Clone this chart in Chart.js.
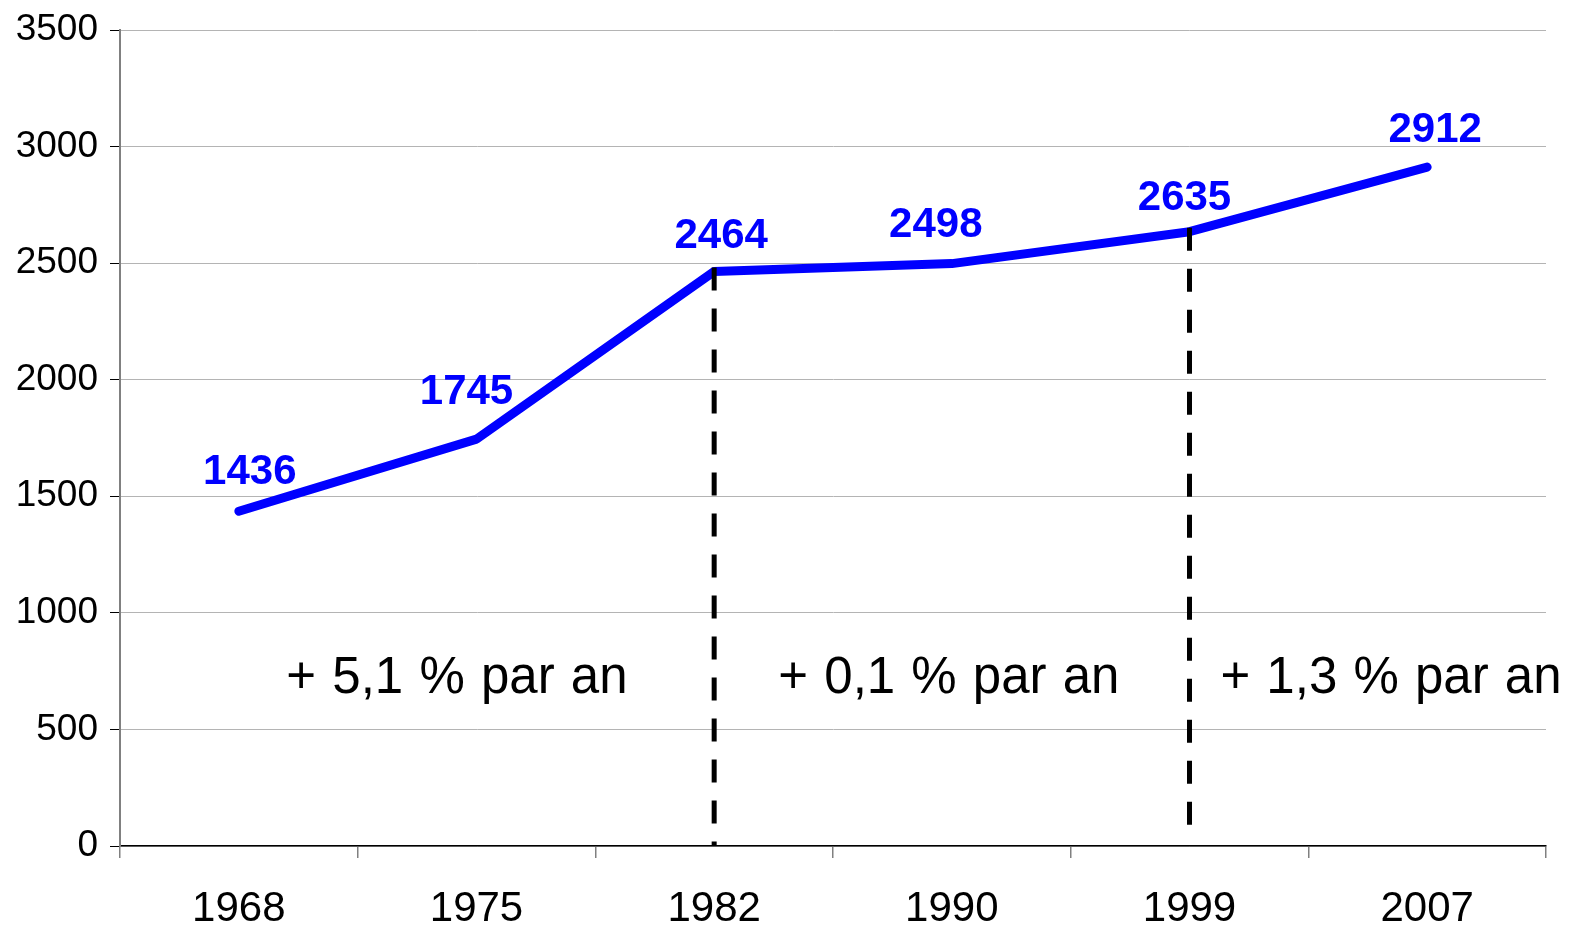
<!DOCTYPE html>
<html>
<head>
<meta charset="utf-8">
<script src="https://cdn.jsdelivr.net/npm/chart.js@4/dist/chart.umd.min.js"></script>
<style>
html,body{margin:0;padding:0;background:#fff}
#wrap{width:1575px;height:929px}
</style>
</head>
<body>
<div id="wrap"><canvas id="chart"></canvas></div>
<script>
// years and population
const years = ["1968", "1975", "1982", "1990", "1999", "2007"]
const population = [1436, 1745, 2464, 2498, 2635, 2912]
const yTicks = [0, 500, 1000, 1500, 2000, 2500, 3000, 3500]

// dashed separators: category index and bottom value
const breakIdx = [2, 4]
const breakBottom = [0, 50]

// growth notes: text, category position, value position
const notes = ["+ 5,1 % par an", "+ 0,1 % par an", "+ 1,3 % par an"]
const noteX = [0.2, 2.27, 4.13]
const noteY = [656, 656, 656]

// label nudges in px (dx, dy from the point)
const labelDx = [11, -10, 7, -16, -5, 8]
const labelDy = [-27, -35, -24, -27, -22, -25]

const extras = {
id: "extras",
afterDatasetsDraw(chart){
const ctx = chart.ctx
const x = chart.scales.x
const y = chart.scales.y
const meta = chart.getDatasetMeta(0)

ctx.save()
ctx.strokeStyle = "#000"
ctx.lineWidth = 5
ctx.setLineDash([23, 18])
breakIdx.forEach((idx, i) => {
const px = x.getPixelForValue(idx)
ctx.beginPath()
ctx.moveTo(px, y.getPixelForValue(population[idx]) - 4)
ctx.lineTo(px, y.getPixelForValue(breakBottom[i]))
ctx.stroke()
})
ctx.setLineDash([])

ctx.fillStyle = "#0000ff"
ctx.font = "bold 42px 'Liberation Sans', Arial, sans-serif"
ctx.textAlign = "center"
ctx.textBaseline = "alphabetic"
meta.data.forEach((pt, i) => {
ctx.fillText(String(population[i]), pt.x + labelDx[i], pt.y + labelDy[i])
})

ctx.fillStyle = "#000"
ctx.font = "51px 'Liberation Sans', Arial, sans-serif"
ctx.wordSpacing = "2px"
ctx.textAlign = "left"
notes.forEach((t, i) => {
ctx.fillText(t, x.getPixelForValue(noteX[i]), y.getPixelForValue(noteY[i]))
})
ctx.restore()
}
}

new Chart(document.getElementById("chart"), {
type: "line",
data: {
labels: years,
datasets: [{
data: population,
borderColor: "#0000ff",
borderWidth: 9,
borderCapStyle: "round",
borderJoinStyle: "round",
tension: 0,
pointRadius: 0,
fill: false
}]
},
options: {
responsive: true,
maintainAspectRatio: false,
animation: false,
layout: { padding: { top: 30, right: 29, left: 0, bottom: 0 } },
plugins: { legend: { display: false }, tooltip: { enabled: false } },
scales: {
x: {
type: "category",
offset: true,
afterFit: s => { s.height = 83 },
grid: {
offset: true,
drawOnChartArea: false,
tickLength: 12,
color: "#808080",
lineWidth: 1.5
},
border: { color: "#000", width: 1.5 },
ticks: {
color: "#000",
padding: 26,
maxRotation: 0,
font: { family: "'Liberation Sans', Arial, sans-serif", size: 42 }
}
},
y: {
min: 0,
max: 3500,
afterFit: s => { s.width = 120; s.paddingTop = 0 },
afterBuildTicks: s => { s.ticks = yTicks.map(v => ({ value: v })) },
grid: {
color: "#b4b4b4",
lineWidth: 1,
tickLength: 10,
tickColor: "#000"
},
border: { color: "#808080", width: 2 },
ticks: {
color: "#000",
padding: 12,
callback: v => String(v),
font: { family: "'Liberation Sans', Arial, sans-serif", size: 37 }
}
}
}
},
plugins: [extras]
})
</script>
</body>
</html>
